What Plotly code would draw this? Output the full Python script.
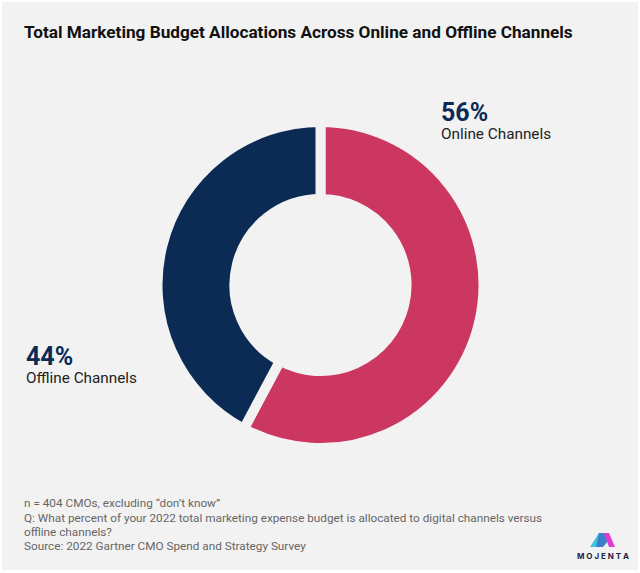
import plotly.graph_objects as go

# Chart data
channels = ['Online Channels', 'Offline Channels']
# printed percentages
shares = [56, 44]
# the slices as drawn in the picture: the split sits a bit past the printed 56/44
drawn_shares = [57.8, 42.2]
colors = ['#cc3762', '#0b2a54']

title_text = 'Total Marketing Budget Allocations Across Online and Offline Channels'
notes = [
    'n = 404 CMOs, excluding “don’t know”',
    'Q: What percent of your 2022 total marketing expense budget is allocated to digital channels versus',
    'offline channels?',
    'Source: 2022 Gartner CMO Spend and Strategy Survey',
]

W, H = 640, 573
BG = '#f2f2f2'


def px(x):
    return x / W


def py(y):
    return 1 - y / H


def label(text, x, y, size, color, family='Roboto', anchor='left'):
    return dict(text=text, x=px(x), y=py(y), xref='paper', yref='paper', xanchor=anchor, yanchor='middle',
                showarrow=False, align='left', font=dict(size=size, color=color, family=family))


def callout(share, name, x, y):
    # base font sets the line step, spans set the real sizes
    big = f'<span style="font-size:25px;color:#0b2a54"><b>{share}%</b></span>'
    small = f'<span style="font-size:15.3px">{name}</span>'
    return label(f'{big}<br>{small}', x, y, 14.2, '#222222')


def poly(points, color):
    path = 'M ' + ' L '.join(f'{px(a):.4f},{py(b):.4f}' for a, b in points) + ' Z'
    return dict(type='path', path=path, xref='paper', yref='paper', fillcolor=color, line=dict(width=0), layer='above')


fig = go.Figure(go.Pie(
    labels=channels,
    values=drawn_shares,
    hole=0.528,
    sort=False,
    direction='clockwise',
    rotation=0,
    textinfo='none',
    marker=dict(colors=colors, line=dict(color=BG, width=10)),
    domain=dict(x=[px(157.5), px(483.5)], y=[py(448), py(122)]),
))

annotations = [
    label(f'<b>{title_text}</b>', 22, 32, 17.2, '#111111'),
    callout(shares[0], channels[0], 439, 120),
    callout(shares[1], channels[1], 24, 364),
    label('<b>M O J E N T A</b>', 602.5, 556, 8, '#1c2446', 'Inter', 'center'),
]
for note, y in zip(notes, [503, 518, 532, 546]):
    annotations.append(label(note, 22, y, 11.75, '#666666'))

shapes = [
    dict(type='rect', x0=px(2), x1=px(638), y0=py(570), y1=py(2), xref='paper', yref='paper',
         fillcolor=BG, line=dict(width=0), layer='below'),
    # logo
    poly([(590, 547), (599, 533), (604, 533), (596, 547)], '#3fc4e6'),
    poly([(599, 533), (604, 533), (608, 541), (603, 547), (596, 547)], '#3a7fc9'),
    poly([(604, 533), (609, 533), (615, 547), (609, 547)], '#e23ad0'),
]

fig.update_layout(
    width=W,
    height=H,
    margin=dict(l=0, r=0, t=0, b=0),
    paper_bgcolor='white',
    showlegend=False,
    annotations=annotations,
    shapes=shapes,
)

# the page's default body margin would push the fixed-size figure off by 8px
fig.write_html('out.html', config=dict(displayModeBar=False),
               post_script="document.body.style.margin='0';document.body.style.overflow='hidden';")
